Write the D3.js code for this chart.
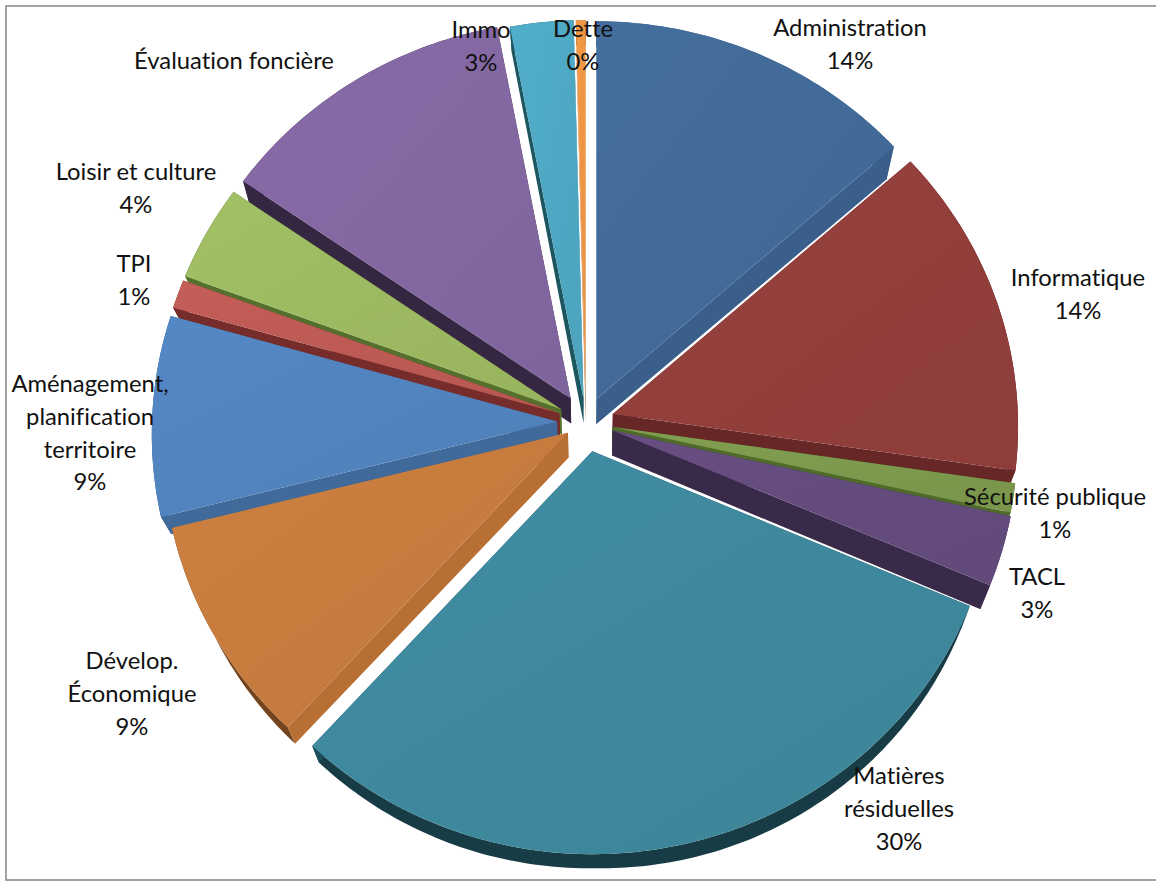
<!DOCTYPE html>
<html><head><meta charset="utf-8">
<style>html,body{margin:0;padding:0;background:#fff}svg{display:block}text{font-family:Lato,"Open Sans",sans-serif;fill:#111;font-variant-ligatures:none}</style>
<script src="https://cdn.jsdelivr.net/npm/d3@7"></script>
</head><body><svg id="c" width="1156" height="884"></svg>
<script>
// ----- data -----
const categories = ["Administration","Informatique","Sécurité publique","TACL","Matières résiduelles","Dévelop. Économique","Aménagement, planification territoire","TPI","Loisir et culture","Évaluation foncière","Immo","Dette"];
const shares = [13.5,13.8,1.2,2.9,30.4,9.3,8.3,1.2,4.0,12.4,2.6,0.4];
const shownPercent = ["14%","14%","1%","3%","30%","9%","9%","1%","4%","","3%","0%"];
// ----- styling -----
const explode = [25,28,27,28,30,21,29,28,28,28,24,24];
const topColors = ["#426b99","#933f3c","#7d9a4e","#654c7e","#3e899e","#c77c3e","#5284bf","#be5a55","#9dbb61","#8368a2","#4fa9c4","#ee9645"];
const wallColors = ["#3a5f8b","#662726","#4f6b2a","#3a2a4a","#1e4c5a","#b86f34","#406a9a","#762c2a","#55702c","#352642","#1d5560","#a0622a"];
const rimColors = ["#3a5f8b","#5c2322","#4a6028","#3a2a4a","#183c46","#74441f","#335580","#6a2826","#4f6828","#352642","#1a4a56","#8a5424"];
const labelLines = [["Administration"],["Informatique"],["Sécurité publique"],["TACL"],["Matières","résiduelles"],["Dévelop.","Économique"],["Aménagement,","planification","territoire"],["TPI"],["Loisir et culture"],["Évaluation foncière"],["Immo"],["Dette"]];
const labelX = [850,1078,1055,1037,899,132,90,134,136,234,481,583];
const labelY = [28,278,497,577,776,661,384,264,172,61,30,29];

const W=1156,H=884, cx=586, cy=422, rx=405, ry=390, q=0.032, lineH=32.6;
const svg=d3.select("#c");
svg.append("rect").attr("x",6).attr("y",6).attr("width",1155).attr("height",874).attr("fill","#fff").attr("stroke","#8c8c8c").attr("stroke-width",1.6);

const defs=svg.append("defs");
const arcs=d3.pie().sort(null).value(d=>d)(shares).map((a,i)=>({...a,i,mid:(a.startAngle+a.endAngle)/2}));

function project(a){ // perspective view of the disc; a clockwise from the top
  const u=Math.sin(a), v=-Math.cos(a), w=1-q*v;
  return [rx*u/w, ry*v/w];
}
// thickness of the extrusion read around the rim (degrees clockwise from the top)
const rimDepth=d3.scaleLinear().domain([0,48,113,180,222,290,305,360]).range([25,33,24,14,16.5,18,30,25]);
const line=d3.line();
const order=arcs.slice().sort((a,b)=>Math.abs(b.mid-Math.PI)-Math.abs(a.mid-Math.PI));

order.forEach(d=>{
  const ax=cx+explode[d.i]*Math.sin(d.mid), ay=cy-explode[d.i]*Math.cos(d.mid);
  const n=Math.max(2,Math.ceil((d.endAngle-d.startAngle)*60));
  const angles=d3.range(n+1).map(k=>d.startAngle+(d.endAngle-d.startAngle)*k/n);
  const rim=angles.map(a=>{const p=project(a);return [ax+p[0],ay+p[1]];});
  const low=rim.map((p,k)=>[p[0]+(590-p[0])*0.024,p[1]+rimDepth(angles[k]*180/Math.PI)]);
  const apex=[ax,ay], apexLow=[ax+(590-ax)*0.024,ay+25];
  const g=svg.append("g");
  const c=d3.color(topColors[d.i]);
  const id="g"+d.i;
  const gr=defs.append("linearGradient").attr("id",id).attr("x1",0).attr("y1",0).attr("x2",1).attr("y2",1);
  gr.append("stop").attr("offset",0).attr("stop-color",c.brighter(0.08));
  gr.append("stop").attr("offset",1).attr("stop-color",c.darker(0.1));
  // rim
  g.append("path").attr("d",line(rim.concat(low.slice().reverse()))+"Z").attr("fill",rimColors[d.i]);
  // radial walls
  [0,n].forEach(k=>{
    g.append("path").attr("d",line([apex,rim[k],low[k],apexLow])+"Z").attr("fill",wallColors[d.i]);
  });
  // top face
  g.append("path").attr("d",line([apex].concat(rim))+"Z").attr("fill","url(#"+id+")");
});

categories.forEach((name,i)=>{
  const lines=labelLines[i].concat(shownPercent[i]?[shownPercent[i]]:[]);
  const t=svg.append("text").attr("text-anchor","middle").attr("font-size",23.8);
  lines.forEach((s,k)=>t.append("tspan").attr("x",labelX[i]).attr("y",labelY[i]+k*lineH).attr("dy","0.35em").text(s));
});
</script></body></html>
